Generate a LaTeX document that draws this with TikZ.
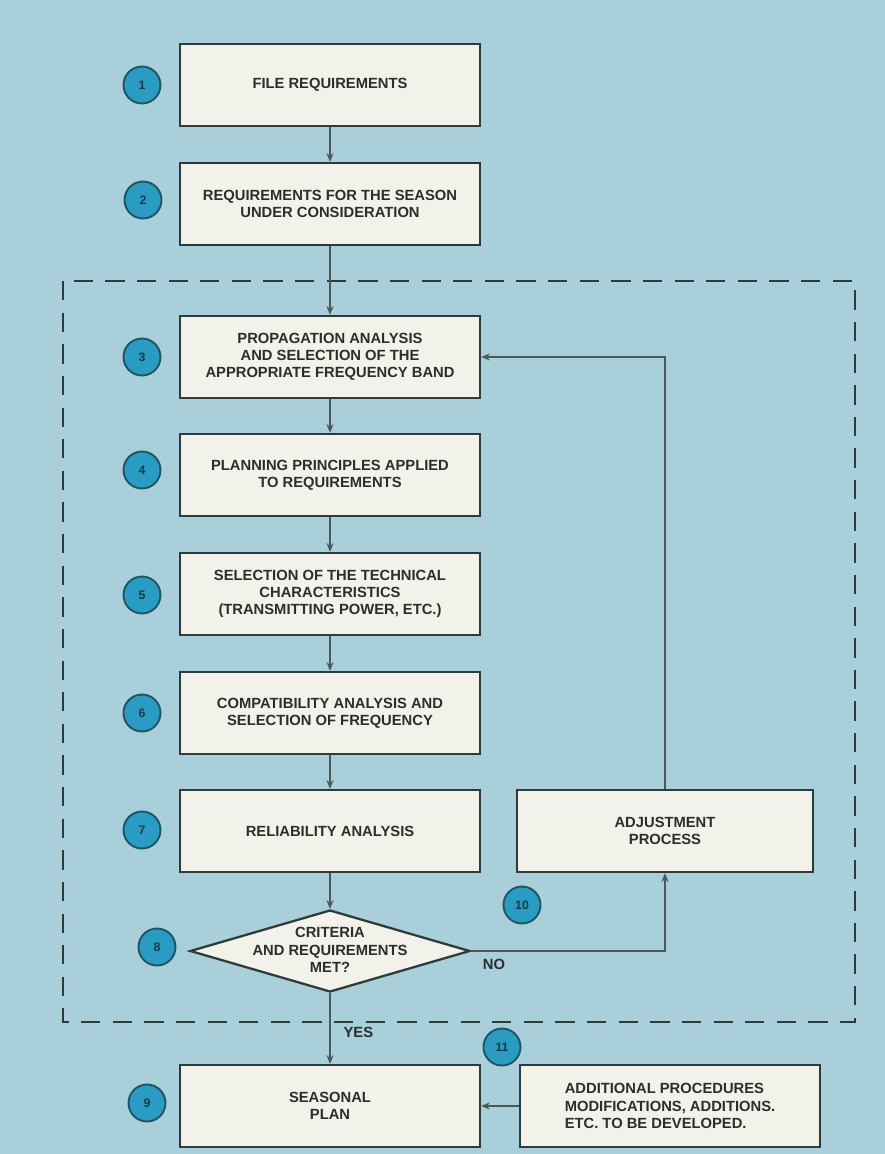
\documentclass[tikz,border=0pt]{standalone}
\usepackage{fontspec}
\setmainfont{Liberation Sans}
\usetikzlibrary{arrows.meta,shapes.geometric}

\definecolor{bgblue}{HTML}{A9CFDA}
\definecolor{boxfill}{HTML}{F3F2EA}
\definecolor{boxline}{HTML}{2F3B3A}
\definecolor{linkgray}{HTML}{4D5857}
\definecolor{numfill}{HTML}{2A9CC4}
\definecolor{numline}{HTML}{1F5663}
\definecolor{numink}{HTML}{163C46}
\definecolor{ink}{HTML}{2A2E2E}

\newcommand{\boxfont}{\bfseries\fontsize{8.4}{9.8}\selectfont}

\tikzset{
  stage/.style={draw=boxline, fill=boxfill, line width=1.3pt,
    minimum width=6cm, minimum height=1.64cm, align=center,
    font=\boxfont, text=ink},
  num/.style={circle, draw=numline, fill=numfill, line width=1.1pt,
    minimum size=0.74cm, inner sep=0pt,
    font=\bfseries\fontsize{7}{7}\selectfont, text=numink},
  link/.style={draw=linkgray, line width=0.8pt},
}

\begin{document}
\begin{tikzpicture}[x=0.02cm, y=-0.02cm, >={Stealth[length=5pt,width=4pt]}]
  % Background
  \fill[bgblue] (0,0) rectangle (885,1154);
  % Dashed frame round the planning loop
  \draw[boxline, line width=1.4pt, dash pattern=on 11pt off 7pt]
    (63,281) rectangle (855,1022);
  % Stages
  \node[stage] (file)   at (330,85)   {FILE REQUIREMENTS};
  \node[stage] (season) at (330,204)  {REQUIREMENTS FOR THE SEASON\\UNDER CONSIDERATION};
  \node[stage] (prop)   at (330,357)  {PROPAGATION ANALYSIS\\AND SELECTION OF THE\\APPROPRIATE FREQUENCY BAND};
  \node[stage] (plan)   at (330,475)  {PLANNING PRINCIPLES APPLIED\\TO REQUIREMENTS};
  \node[stage] (tech)   at (330,594)  {SELECTION OF THE TECHNICAL\\CHARACTERISTICS\\(TRANSMITTING POWER, ETC.)};
  \node[stage] (compat) at (330,713)  {COMPATIBILITY ANALYSIS AND\\SELECTION OF FREQUENCY};
  \node[stage] (rel)    at (330,831)  {RELIABILITY ANALYSIS};
  \node[stage, minimum width=5.92cm] (adj) at (665,831) {ADJUSTMENT\\PROCESS};
  % Decision
  \node[diamond, draw=boxline, fill=boxfill, line width=1.3pt, inner sep=0pt,
    minimum width=5.6cm, minimum height=1.64cm] (crit) at (330,951) {};
  \node[font=\boxfont, text=ink, align=center] (crittext) at (330,950)
    {CRITERIA\\AND REQUIREMENTS\\MET?};
  % Outcome
  \node[stage] (seas) at (330,1106) {SEASONAL\\PLAN};
  \node[stage, align=left] (addl) at (670,1106)
    {ADDITIONAL PROCEDURES\\MODIFICATIONS, ADDITIONS.\\ETC. TO BE DEVELOPED.};
  % Step numbers
  \foreach \n/\x/\y in {1/142/85, 2/143/200, 3/142/357, 4/142/470, 5/142/595,
      6/142/713, 7/142/830, 8/157/947, 9/147/1103, 10/522/905, 11/502/1047} {
    \node[num] (n\n) at (\x,\y) {\n};
  }
  % Main flow
  \draw[link, ->] (file) -- (season);
  \draw[link, ->] (season) -- (prop);
  \draw[link, ->] (prop) -- (plan);
  \draw[link, ->] (plan) -- (tech);
  \draw[link, ->] (tech) -- (compat);
  \draw[link, ->] (compat) -- (rel);
  \draw[link, ->] (rel) -- (crit);
  \draw[link, ->] (crit) -- (seas)
    node[pos=0.55, right=4pt, font=\boxfont, text=ink] (yes) {YES};
  % Feedback loop
  \draw[link, ->] (crit.east) -| (adj.south);
  \node[font=\boxfont, text=ink] (no) at (494,964) {NO};
  \draw[link, ->] (adj.north) |- (prop.east);
  % Later additions
  \draw[link, ->] (addl) -- (seas);
\end{tikzpicture}
\end{document}
